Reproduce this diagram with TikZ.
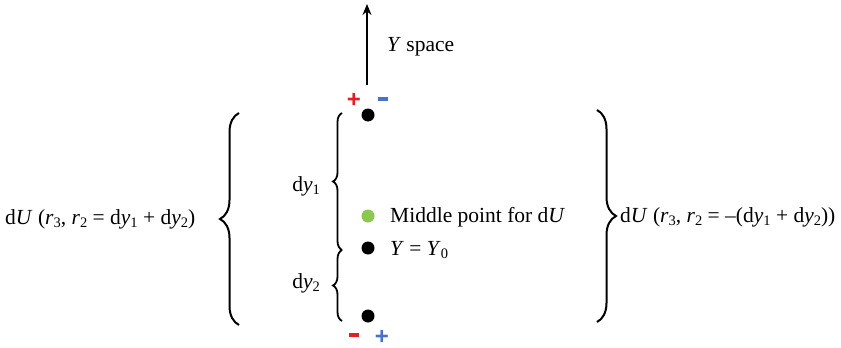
\documentclass[tikz,border=0pt]{standalone}
\usepackage{fontspec}
\setmainfont{Liberation Serif}
\newfontfamily\signfont{Liberation Sans}
\usetikzlibrary{decorations.pathreplacing,arrows.meta}
\definecolor{pred}{RGB}{230,30,35}
\definecolor{pblue}{RGB}{70,115,200}
\definecolor{pgreen}{RGB}{140,200,80}
\newcommand{\sbs}[1]{\raisebox{-0.35ex}{\fontsize{14.5}{16}\selectfont #1}}
\tikzset{
  dot/.style={circle,fill=#1,inner sep=0pt,minimum size=13pt},
  lbl/.style={inner sep=0pt,font=\fontsize{21.5}{24}\selectfont},
  plus/.style={inner sep=0pt,font=\signfont\bfseries\fontsize{24}{26}\selectfont,text=#1},
  minus/.style={inner sep=0pt,fill=#1,minimum width=10pt,minimum height=3.5pt},
  bigbrace/.style={decorate,decoration={brace,amplitude=19pt},line width=2pt},
  smallbrace/.style={decorate,decoration={brace,amplitude=9pt},line width=1.8pt},
}
\begin{document}
\begin{tikzpicture}[x=1pt,y=-1pt]
\useasboundingbox (0,0) rectangle (841,348);
% arrow
\coordinate (arrtop) at (367,4);
\coordinate (arrbot) at (367,85);
\draw[line width=2.6pt,-{Stealth[length=11pt,width=9pt]}] (arrbot) -- (arrtop);
\node[lbl,anchor=west] (yspace) at (387,47) {\textit{Y} space};
% signs
\node[plus=pred] (ptop) at (354,100) {+};
\node[minus=pblue] (mtop) at (383,99) {};
\node[minus=pred] (mbot) at (354,335) {};
\node[plus=pblue] (pbot) at (382,337) {+};
% dots
\node[dot=black] (d1) at (368,115) {};
\node[dot=pgreen] (dm) at (368,216) {};
\node[dot=black] (d0) at (368,248) {};
\node[dot=black] (d2) at (368,316) {};
\node[lbl,anchor=west] (mid) at (390,217) {Middle point for d\textit{U}};
\node[lbl,anchor=west] (y0) at (390,250) {\textit{Y} = \textit{Y}\sbs{0}};
% small braces
\coordinate (b1t) at (342,113);
\coordinate (b1b) at (342,250);
\coordinate (b2b) at (342,321);
\draw[smallbrace] (b1b) -- (b1t);
\draw[smallbrace] (b2b) -- (b1b);
\node[lbl,anchor=east] (dy1) at (320,186) {d\textit{y}\sbs{1}};
\node[lbl,anchor=east] (dy2) at (320,283) {d\textit{y}\sbs{2}};
% big braces
\coordinate (lbt) at (239,113);
\coordinate (lbb) at (239,325);
\draw[bigbrace] (lbb) -- (lbt);
\coordinate (rbt) at (597,110);
\coordinate (rbb) at (597,322);
\draw[bigbrace] (rbt) -- (rbb);
\node[lbl,anchor=west] (left) at (5,219) {d\textit{U} (\textit{r}\sbs{3}, \textit{r}\sbs{2} = d\textit{y}\sbs{1} + d\textit{y}\sbs{2})};
\node[lbl,anchor=west] (right) at (620,217) {d\textit{U} (\textit{r}\sbs{3}, \textit{r}\sbs{2} = –(d\textit{y}\sbs{1} + d\textit{y}\sbs{2}))};
\end{tikzpicture}
\end{document}
